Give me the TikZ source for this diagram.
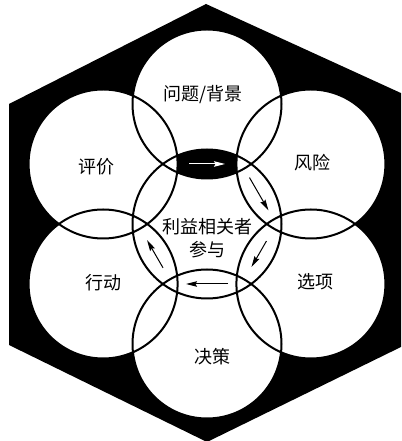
\documentclass[tikz,border=0pt]{standalone}
\usepackage{fontspec}
\newfontfamily\cjk{Noto Sans CJK SC}
\usetikzlibrary{arrows.meta,calc}

\begin{document}
\begin{tikzpicture}[x=1pt, y=1pt,
  ring/.style={line width=2pt},
  tag/.style={font=\cjk\fontsize{18}{23}\selectfont, align=center, inner sep=0pt},
  flow/.style={-{Stealth[length=11pt, width=5.5pt, inset=1.5pt]}, line width=1pt}]
  \useasboundingbox (0,0) rectangle (401,441);
  \clip (0,0) rectangle (401,441);

  % Black hexagon
  \fill[black] (206,437) -- (403,347) -- (403,95) -- (207,-1) -- (9,96) -- (9,337) -- cycle;

  % Circle centres
  \coordinate (hub) at (207,217);
  \foreach \a/\n in {90/top, 30/ur, -30/lr, -90/bot, -150/ll, 150/ul}
    \coordinate (\n) at ($(hub)+(\a:120)$);

  % White discs
  \foreach \n in {hub,top,ur,lr,bot,ll,ul}
    \fill[white] (\n) circle (74.5);

  % Black lens between top and hub
  \begin{scope}
    \clip (top) circle (74.5);
    \fill[black] (hub) circle (74.5);
    \fill[white] (ul) circle (74.5) (ur) circle (74.5);
  \end{scope}

  % Outlines
  \foreach \n in {hub,top,ur,lr,bot,ll,ul}
    \draw[ring] (\n) circle (74.5);

  % Arrows round the hub
  \foreach \a/\l/\c [count=\i] in {90/18/white, 30/19/black, -30/15/black, -90/21/black, -150/16/black}{
    \path ($(hub)+(\a:60)+(\a+90:\l)$) coordinate (s\i)
          ($(hub)+(\a:60)+(\a-90:\l)$) coordinate (e\i);
    \draw[flow, \c] (s\i) -- (e\i);
  }

  % Labels
  \node[tag] (problem) at (203,346) {问题/背景};
  \node[tag] (review) at (96,274) {评价};
  \node[tag] (risk) at (312,278) {风险};
  \node[tag] (act) at (103,158) {行动};
  \node[tag] (option) at (315,159) {选项};
  \node[tag] (decide) at (212,84) {决策};
  \node[tag] (engage) at (207,202.5) {利益相关者\\参与};
\end{tikzpicture}
\end{document}
